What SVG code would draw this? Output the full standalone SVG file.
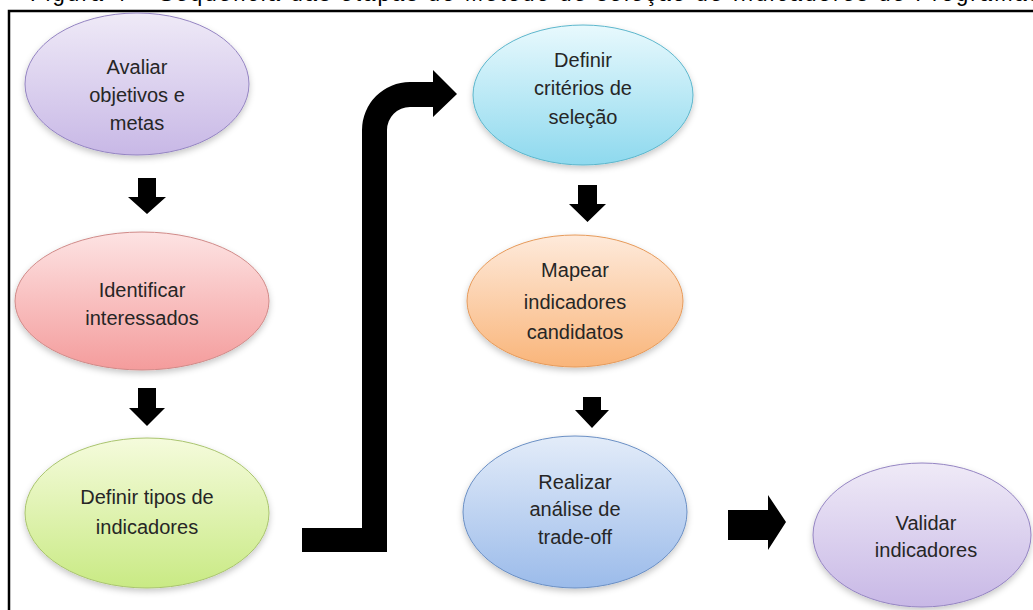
<svg xmlns="http://www.w3.org/2000/svg" width="1033" height="610" viewBox="0 0 1033 610">
<defs>
<linearGradient id="gPurple" x1="0" y1="0" x2="0" y2="1"><stop offset="0" stop-color="#efeaf7"/><stop offset="1" stop-color="#c8b8e6"/></linearGradient>
<linearGradient id="gRed" x1="0" y1="0" x2="0" y2="1"><stop offset="0" stop-color="#fde3e3"/><stop offset="1" stop-color="#f49c9c"/></linearGradient>
<linearGradient id="gGreen" x1="0" y1="0" x2="0" y2="1"><stop offset="0" stop-color="#f5fbdc"/><stop offset="1" stop-color="#c9ea84"/></linearGradient>
<linearGradient id="gCyan" x1="0" y1="0" x2="0" y2="1"><stop offset="0" stop-color="#e8f9fd"/><stop offset="1" stop-color="#8ed9ee"/></linearGradient>
<linearGradient id="gOrange" x1="0" y1="0" x2="0" y2="1"><stop offset="0" stop-color="#feeadb"/><stop offset="1" stop-color="#f9b57a"/></linearGradient>
<linearGradient id="gBlue" x1="0" y1="0" x2="0" y2="1"><stop offset="0" stop-color="#e3ecf9"/><stop offset="1" stop-color="#9bbbea"/></linearGradient>
<filter id="sh" x="-10%" y="-10%" width="120%" height="130%"><feDropShadow dx="0" dy="3" stdDeviation="3" flood-color="#000" flood-opacity="0.22"/></filter>
</defs>
<style>
.lbl{font-family:"Liberation Sans",Arial,sans-serif;font-size:20px;fill:#262626;text-anchor:middle}
.title{font-family:"Liberation Sans",Arial,sans-serif;font-size:22px;fill:#000}
.arr{fill:#000;stroke:none}
.e{filter:url(#sh);stroke-width:1}
</style>
<rect width="1033" height="610" fill="#fff"/>
<text class="title" x="30" y="1" textLength="1010" lengthAdjust="spacing">Figura 4 – Sequência das etapas do Método de seleção de Indicadores de Programas</text>
<rect x="9" y="11" width="1040" height="620" fill="none" stroke="#000" stroke-width="2.5"/>

<g id="n1">
<ellipse class="e" cx="137" cy="84" rx="112" ry="71" fill="url(#gPurple)" stroke="#9484c2"/>
<text class="lbl" x="137" y="74">Avaliar</text>
<text class="lbl" x="137" y="102">objetivos e</text>
<text class="lbl" x="137" y="130">metas</text>
</g>
<g id="n2">
<ellipse class="e" cx="142" cy="301" rx="127" ry="69" fill="url(#gRed)" stroke="#d08a88"/>
<text class="lbl" x="142" y="297">Identificar</text>
<text class="lbl" x="142" y="325">interessados</text>
</g>
<g id="n3">
<ellipse class="e" cx="147" cy="513" rx="122" ry="75" fill="url(#gGreen)" stroke="#a9c46e"/>
<text class="lbl" x="147" y="504">Definir tipos de</text>
<text class="lbl" x="147" y="534">indicadores</text>
</g>
<g id="n4">
<ellipse class="e" cx="583" cy="95" rx="110" ry="70" fill="url(#gCyan)" stroke="#5cb6cc"/>
<text class="lbl" x="583" y="67">Definir</text>
<text class="lbl" x="583" y="95">critérios de</text>
<text class="lbl" x="583" y="124">seleção</text>
</g>
<g id="n5">
<ellipse class="e" cx="575" cy="301" rx="108" ry="66" fill="url(#gOrange)" stroke="#e69a5a"/>
<text class="lbl" x="575" y="277">Mapear</text>
<text class="lbl" x="575" y="309">indicadores</text>
<text class="lbl" x="575" y="339">candidatos</text>
</g>
<g id="n6">
<ellipse class="e" cx="575" cy="512" rx="112" ry="76" fill="url(#gBlue)" stroke="#6a8fc4"/>
<text class="lbl" x="575" y="489">Realizar</text>
<text class="lbl" x="575" y="516">análise de</text>
<text class="lbl" x="575" y="544">trade-off</text>
</g>
<g id="n7">
<ellipse class="e" cx="922" cy="535" rx="109" ry="72" fill="url(#gPurple)" stroke="#9484c2"/>
<text class="lbl" x="926" y="530">Validar</text>
<text class="lbl" x="926" y="557">indicadores</text>
</g>

<g id="connectors">
<path class="arr" d="M138,178 H156 V197 H166 L147,214 L128,197 H138 Z"/>
<path class="arr" d="M138,388 H156 V408 H165 L147,426 L129,408 H138 Z"/>
<path class="arr" d="M578,185 H597 V204 H606 L587.5,222 L569,204 H578 Z"/>
<path class="arr" d="M583,397 H601 V410 H609 L592,428 L575,410 H583 Z"/>
<path class="arr" d="M728,510 H768 V495 L786,522 L768,550 V540 H728 Z"/>
<path class="arr" d="M302,528 H362 V130 A48,48 0 0 1 410,82 H433 V70 L457,94 L433,117 V107 H410 A23,23 0 0 0 387,130 V552 H302 Z"/>
</g>
</svg>
